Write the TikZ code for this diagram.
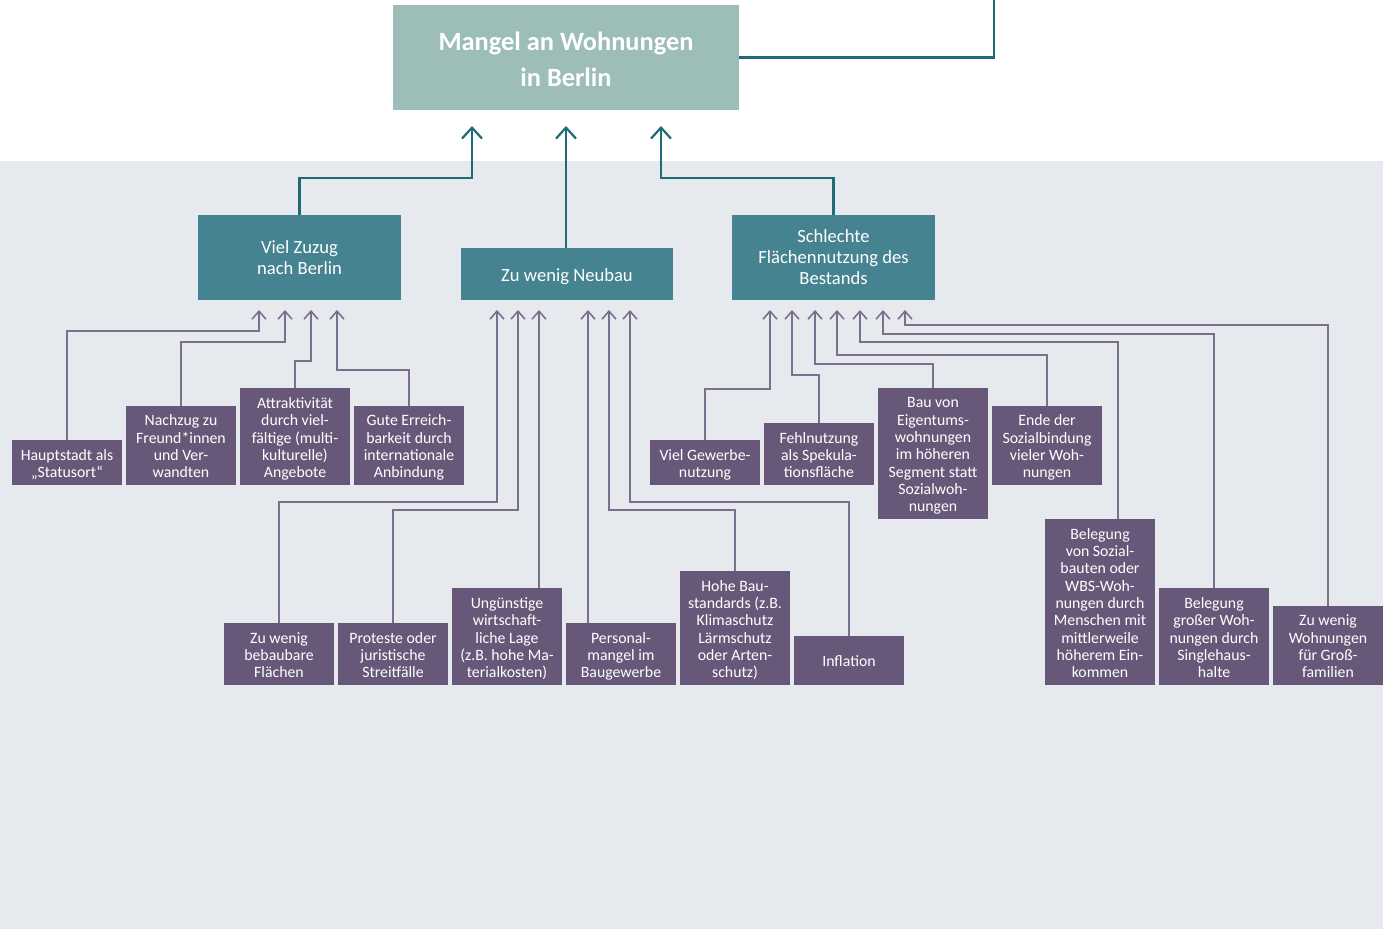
\documentclass[tikz,border=0pt]{standalone}
\usepackage{fontspec}
\setmainfont{Carlito}
\usetikzlibrary{positioning,arrows.meta}

\definecolor{bggray}{HTML}{E6E9EE}
\definecolor{boxtitle}{HTML}{9CBDB8}
\definecolor{boxteal}{HTML}{44838F}
\definecolor{lineteal}{HTML}{1F6B74}
\definecolor{boxviolet}{HTML}{675879}
\definecolor{lineviolet}{HTML}{7C6F8E}

\newcommand{\topstrut}[1]{\rule{0pt}{#1}}
\newcommand{\botstrut}[1]{\rule[-#1]{0pt}{#1}}

\begin{document}
\begin{tikzpicture}[x=0.5pt,y=-0.5pt,
  title/.style={fill=boxtitle, text=white, font=\fontsize{13.2}{17.75}\selectfont\bfseries,
    align=flush center, text width=173pt, minimum height=52.5pt, inner sep=0pt, outer sep=0pt,
    execute at begin node=\topstrut{16pt}, execute at end node=\botstrut{5pt}},
  hub/.style={fill=boxteal, text=white, font=\fontsize{9.3}{10.5}\selectfont,
    align=center, minimum width=101.5pt, minimum height=42.5pt, inner sep=0pt, outer sep=0pt},
  cause/.style={fill=boxviolet, text=white, font=\fontsize{7.9}{8.65}\selectfont,
    align=flush center, text width=55pt, inner sep=0pt, outer sep=0pt,
    execute at begin node=\topstrut{10.05pt}, execute at end node=\botstrut{3.6pt}},
  tline/.style={draw=lineteal, line width=1.1pt, -{Straight Barb[length=5.5pt,width=10pt]}},
  pline/.style={draw=lineviolet, line width=0.8pt, -{Straight Barb[length=4pt,width=7pt]}}]
\useasboundingbox (0,0) rectangle (1383,929);
\fill[bggray] (0,161) rectangle (1383,929);

% Ziel
\node[title] (mangel) at (566,57.5) {Mangel an Wohnungen\\in Berlin};
\coordinate (oben) at (994,0);
\draw[draw=lineteal, line width=1.1pt] (mangel.east) -| (oben);

% Ursachen
\node[hub, minimum width=106pt, minimum height=26pt, text height=7.9pt, text depth=0pt] (neubau)
  [below=69pt of mangel, xshift=0.5pt] {Zu wenig Neubau};
\node[hub] (zuzug)   [left=30pt of neubau.south west, anchor=south east]
{Viel Zuzug\\nach Berlin};
\node[hub] (flaeche) [right=29.5pt of neubau.south east, anchor=south west]
{Schlechte\\Flächennutzung des\\Bestands};

\coordinate (t1) at (472,126);
\coordinate (t2) at (566,126);
\coordinate (t3) at (661,126);

\draw[tline] (zuzug.north)   |- (t1 |- 0,178) -- (t1);
\draw[tline] (t2 |- neubau.north) -- (t2);
\draw[tline] (flaeche.north) |- (t3 |- 0,178) -- (t3);

% Zuzug
\node[cause, anchor=south west] (haupt) at (12,485)
{Hauptstadt als\\„Statusort“};
\node[cause] (nachzug) [right=2pt of haupt.south east, anchor=south west]
{Nachzug zu\\Freund*innen\\und Ver-\\wandten};
\node[cause] (attrakt) [right=2pt of nachzug.south east, anchor=south west]
{Attraktivität\\durch viel-\\fältige (multi-\\kulturelle)\\Angebote};
\node[cause] (erreich) [right=2pt of attrakt.south east, anchor=south west]
{Gute Erreich-\\barkeit durch\\internationale\\Anbindung};

\coordinate (z1) at (259,310);
\coordinate (z2) at (285,310);
\coordinate (z3) at (311,310);
\coordinate (z4) at (337,310);

\draw[pline] (haupt.north)   |- (z1 |- 0,331) -- (z1);
\draw[pline] (nachzug.north) |- (z2 |- 0,342) -- (z2);
\draw[pline] (attrakt.north) |- (z3 |- 0,361) -- (z3);
\draw[pline] (erreich.north) |- (z4 |- 0,370) -- (z4);

% Neubau
\node[cause, anchor=south west] (flaechen) at (224,685)
{Zu wenig\\bebaubare\\Flächen};
\node[cause] (proteste) [right=2pt of flaechen.south east, anchor=south west]
{Proteste oder\\juristische\\Streitfälle};
\node[cause] (lage) [right=2pt of proteste.south east, anchor=south west]
{Ungünstige\\wirtschaft-\\liche Lage\\(z.B. hohe Ma-\\terialkosten)};
\node[cause] (personal) [right=2pt of lage.south east, anchor=south west]
{Personal-\\mangel im\\Baugewerbe};
\node[cause] (standards) [right=2pt of personal.south east, anchor=south west]
{Hohe Bau-\\standards (z.B.\\Klimaschutz\\Lärmschutz\\oder Arten-\\schutz)};
\node[cause, minimum height=24.5pt] (inflation) [right=2pt of standards.south east, anchor=south west]
{Inflation};

\coordinate (n1) at (497,310);
\coordinate (n2) at (518,310);
\coordinate (n3) at (539,310);
\coordinate (n4) at (588,310);
\coordinate (n5) at (609,310);
\coordinate (n6) at (630,310);

\draw[pline] (flaechen.north)  |- (n1 |- 0,502) -- (n1);
\draw[pline] (proteste.north)  |- (n2 |- 0,510) -- (n2);
\draw[pline] (n3 |- lage.north) -- (n3);
\draw[pline] (n4 |- personal.north) -- (n4);
\draw[pline] (standards.north) |- (n5 |- 0,510) -- (n5);
\draw[pline] (inflation.north) |- (n6 |- 0,502) -- (n6);

% Flaechennutzung
\node[cause, anchor=south west] (gewerbe) at (650,485)
{Viel Gewerbe-\\nutzung};
\node[cause] (fehl) [right=2pt of gewerbe.south east, anchor=south west]
{Fehlnutzung\\als Spekula-\\tionsfläche};
\node[cause] (eigentum) [below right=17pt and 2pt of fehl.south east, anchor=south west]
{Bau von\\Eigentums-\\wohnungen\\im höheren\\Segment statt\\Sozialwoh-\\nungen};
\node[cause] (sozbind) [above right=17pt and 2pt of eigentum.south east, anchor=south west]
{Ende der\\Sozialbindung\\vieler Woh-\\nungen};
\node[cause, anchor=south west] (sozbau) at (1045,685)
{Belegung\\von Sozial-\\bauten oder\\WBS-Woh-\\nungen durch\\Menschen mit\\mittlerweile\\höherem Ein-\\kommen};
\node[cause] (single) [right=2pt of sozbau.south east, anchor=south west]
{Belegung\\großer Woh-\\nungen durch\\Singlehaus-\\halte};
\node[cause] (gross) [right=2pt of single.south east, anchor=south west]
{Zu wenig\\Wohnungen\\für Groß-\\familien};

\coordinate (f1) at (770,310);
\coordinate (f2) at (792,310);
\coordinate (f3) at (815,310);
\coordinate (f4) at (837,310);
\coordinate (f5) at (860,310);
\coordinate (f6) at (883,310);
\coordinate (f7) at (905,310);

\draw[pline] (gewerbe.north)  |- (f1 |- 0,389) -- (f1);
\draw[pline] (fehl.north)     |- (f2 |- 0,375) -- (f2);
\draw[pline] (eigentum.north) |- (f3 |- 0,364) -- (f3);
\draw[pline] (sozbind.north)  |- (f4 |- 0,355) -- (f4);
\draw[pline] ([xshift=9pt]sozbau.north) |- (f5 |- 0,342) -- (f5);
\draw[pline] (single.north)   |- (f6 |- 0,334) -- (f6);
\draw[pline] (gross.north)    |- (f7 |- 0,325) -- (f7);
\end{tikzpicture}
\end{document}
